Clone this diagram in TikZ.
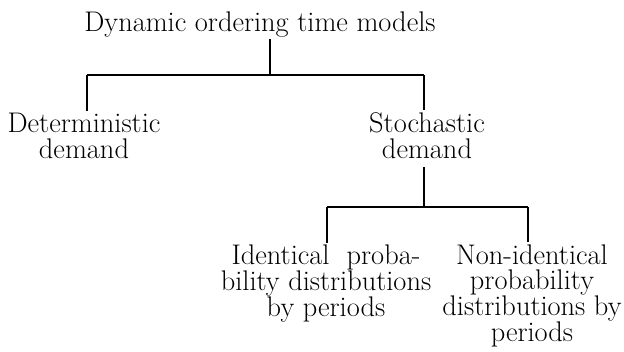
\documentclass[tikz,border=0pt]{standalone}
\usepackage{tikz}

\tikzset{every picture/.style={line width=0.75pt}}
\tikzset{
  lbl/.style={anchor=base,align=center,inner sep=1.5pt,font={\fontsize{21.3}{19.2}\selectfont}},
  stem/.style={line width=1pt},
  bar/.style={line width=1.5pt}
}

\begin{document}
\begin{tikzpicture}[x=0.75pt,y=0.75pt,yscale=-1,xscale=1]
    \useasboundingbox (0,0) rectangle (624,351);

    % Text Node (base = last line)
    \node[lbl] (dyn) at (260,31) {Dynamic ordering time models};
    % Text Node
    \node[lbl] (det) at (84,158) {Deterministic\\demand};
    % Text Node
    \node[lbl] (sto) at (427,158) {Stochastic\\demand};
    % Text Node
    \node[lbl] (idn) at (326,316) {Identical\ \ proba-\\bility distributions\\by periods};
    % Text Node
    \node[lbl] (nidn) at (532,341) {Non-identical\\probability\\distributions by\\periods};

    % junctions
    \coordinate (dynj) at (270,75);
    \coordinate (detj) at (87,75);
    \coordinate (stoj) at (424,75);
    \coordinate (stoj2) at (424,207);
    \coordinate (idnj) at (327,207);
    \coordinate (nidnj) at (528,207);

    %Straight Lines
    \draw[stem] (dyn.south -| dynj) -- (dynj);
    \draw[bar] (detj) -- (stoj);
    \draw[stem] (detj) -- (det.north -| detj);
    \draw[stem] (stoj) -- (sto.north -| stoj);
    %Straight Lines
    \draw[stem,shorten <=5pt] (sto.south -| stoj2) -- (stoj2);
    \draw[bar] (idnj) -- (nidnj);
    \draw[stem] (idnj) -- (idn.north -| idnj);
    \draw[stem] (nidnj) -- (nidn.north -| nidnj);

\end{tikzpicture}
\end{document}
